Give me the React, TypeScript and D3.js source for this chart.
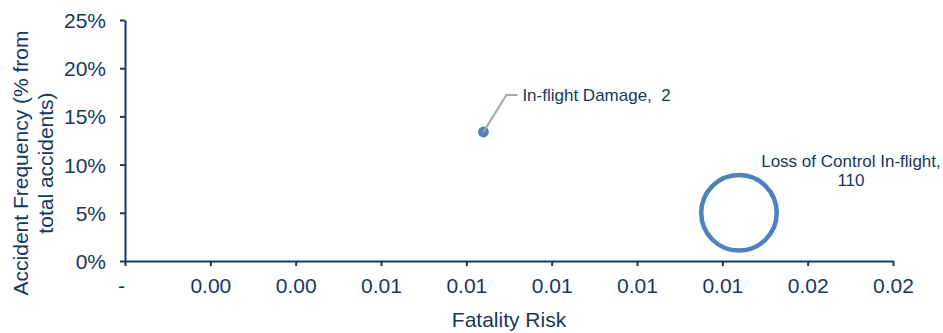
import React, { useRef, useEffect } from 'react';
import * as d3 from 'd3';

// bubble series
const names = ['In-flight Damage', 'Loss of Control In-flight'];
const fatalityRisk = [0.0084, 0.01439];
const accidentFreq = [0.1338, 0.05];
const accidentCount = [2, 110];

// axis ticks
const xTicks = [0, 0.002, 0.004, 0.006, 0.008, 0.01, 0.012, 0.014, 0.016, 0.018];
const yTicks = [0, 0.05, 0.1, 0.15, 0.2, 0.25];

const W = 943;
const H = 333;
const navy = '#17375e';
const blue = '#4f81bd';
const font = '"Liberation Sans", Arial, sans-serif';

const App: React.FC = () => {
  const svgRef = useRef<SVGSVGElement | null>(null);

  useEffect(() => {
    if (!svgRef.current) return;
    const svg = d3.select(svgRef.current);
    svg.selectAll('*').remove();

    const x = d3.scaleLinear().domain([0, 0.018]).range([125, 893]);
    const y = d3.scaleLinear().domain([0, 0.25]).range([261, 20]);
    // bubble area ~ size, radius is the outer edge
    const r = d3.scaleSqrt().domain([0, 110]).range([0, 40]);

    const xAxis = d3
      .axisBottom(x)
      .tickValues(xTicks)
      .tickSize(5)
      .tickSizeOuter(0)
      .tickPadding(12)
      .tickFormat((d) => (Number(d) === 0 ? '-' : d3.format('.2f')(Number(d))));

    const yAxis = d3
      .axisLeft(y)
      .tickValues(yTicks)
      .tickSize(5)
      .tickSizeOuter(0)
      .tickPadding(14)
      .tickFormat(d3.format('.0%'));

    const gx = svg.append('g').attr('transform', `translate(0, ${y(0)})`).call(xAxis);
    const gy = svg.append('g').attr('transform', `translate(${x(0)}, 0)`).call(yAxis);

    [gx, gy].forEach((g) => {
      g.select('.domain').attr('stroke', navy).attr('stroke-width', 2);
      g.selectAll('.tick line').attr('stroke', navy).attr('stroke-width', 2);
      g.selectAll('.tick text')
        .attr('fill', navy)
        .style('font-family', font)
        .style('font-size', '21px');
    });
    gx.selectAll('.tick text').filter((d) => Number(d) === 0).attr('dx', -4);
    gy.selectAll('.tick text').attr('dy', '0.36em');

    // axis titles
    svg
      .append('text')
      .attr('x', (x.range()[0] + x.range()[1]) / 2)
      .attr('y', 327)
      .attr('text-anchor', 'middle')
      .attr('fill', navy)
      .style('font-family', font)
      .style('font-size', '21px')
      .text('Fatality Risk');

    const yTitle = svg
      .append('text')
      .attr('transform', 'translate(0, 163) rotate(-90)')
      .attr('text-anchor', 'middle')
      .attr('fill', navy)
      .style('font-family', font)
      .style('font-size', '21px');
    yTitle.append('tspan').attr('x', 0).attr('y', 28).text('Accident Frequency (% from');
    yTitle.append('tspan').attr('x', 0).attr('y', 53).text('total accidents)');

    // bubbles
    const sw = 4.5;
    names.forEach((_, i) => {
      const cx = x(fatalityRisk[i]);
      const cy = y(accidentFreq[i]);
      const outer = r(accidentCount[i]);
      const small = outer < sw * 1.6;
      svg
        .append('circle')
        .attr('cx', cx)
        .attr('cy', cy)
        .attr('r', small ? outer : outer - sw / 2)
        .attr('fill', small ? blue : 'none')
        .attr('stroke', small ? 'none' : blue)
        .attr('stroke-width', sw);
    });

    // data labels
    const p0 = [x(fatalityRisk[0]), y(accidentFreq[0])];
    svg
      .append('path')
      .attr(
        'd',
        d3.line()([
          [p0[0], p0[1]],
          [p0[0] + 23, p0[1] - 37],
          [p0[0] + 34, p0[1] - 37],
        ])
      )
      .attr('fill', 'none')
      .attr('stroke', '#a6a6a6')
      .attr('stroke-width', 2);
    svg
      .append('text')
      .attr('x', p0[0] + 39)
      .attr('y', p0[1] - 31)
      .attr('fill', navy)
      .style('font-family', font)
      .style('font-size', '17px')
      .style('white-space', 'pre')
      .text(`${names[0]},  ${accidentCount[0]}`);

    const p1 = [x(fatalityRisk[1]), y(accidentFreq[1])];
    const lbl = svg
      .append('text')
      .attr('text-anchor', 'middle')
      .attr('fill', navy)
      .style('font-family', font)
      .style('font-size', '17px');
    lbl.append('tspan').attr('x', p1[0] + 112).attr('y', p1[1] - 46).text(`${names[1]},`);
    lbl.append('tspan').attr('x', p1[0] + 112).attr('y', p1[1] - 27).text(`${accidentCount[1]}`);
  }, []);

  return (
    <svg
      ref={svgRef}
      width={W}
      height={H}
      style={{ position: 'absolute', left: 0, top: 0, background: '#fff' }}
    ></svg>
  );
};

export default App;
